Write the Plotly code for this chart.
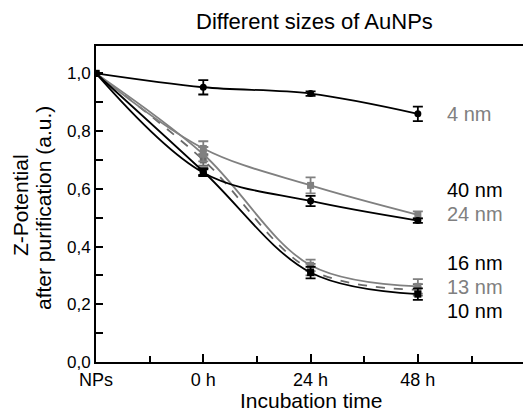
import plotly.graph_objects as go

time_labels = ["NPs", "0 h", "24 h", "48 h"]
x_pos = [0, 1, 2, 3]

sizes = ["4 nm", "40 nm", "24 nm", "16 nm", "13 nm", "10 nm"]
v4 = [1.0, 0.952, 0.930, 0.860]
e4 = [0, 0.025, 0.008, 0.025]
v40 = [1.0, 0.656, 0.558, 0.490]
e40 = [0, 0.012, 0.018, 0.008]
v24 = [1.0, 0.740, 0.612, 0.510]
e24 = [0, 0.025, 0.028, 0.012]
v16 = [1.0, 0.700, 0.320, 0.250]
e16 = [0, 0.020, 0.020, 0.020]
v13 = [1.0, 0.720, 0.335, 0.262]
e13 = [0, 0.025, 0.020, 0.025]
v10 = [1.0, 0.660, 0.310, 0.235]
e10 = [0, 0.012, 0.020, 0.020]

label_y = [0.858, 0.597, 0.514, 0.344, 0.260, 0.177]

BLACK = "#000000"
GRAY = "#808080"
FONT = "Liberation Sans, Arial, sans-serif"

W, H = 523, 413
L, R, T, B = 96, 0, 46, 51
PW, PH = W - L - R, H - T - B


def px(xp):
    return (xp - L) / PW


def py(yp):
    return (H - B - yp) / PH


series = [
    ("16 nm", v16, e16, "#6a6a6a", "square", "dash"),
    ("13 nm", v13, e13, GRAY, "square", "solid"),
    ("24 nm", v24, e24, GRAY, "square", "solid"),
    ("10 nm", v10, e10, BLACK, "square", "solid"),
    ("40 nm", v40, e40, BLACK, "circle", "solid"),
    ("4 nm", v4, e4, BLACK, "circle", "solid"),
]
label_colors = {"4 nm": GRAY, "40 nm": BLACK, "24 nm": GRAY,
                "16 nm": BLACK, "13 nm": GRAY, "10 nm": BLACK}

fig = go.Figure()
for name, vals, errs, col, sym, dash in series:
    fig.add_trace(go.Scatter(
        x=x_pos, y=vals, name=name, mode="lines+markers",
        line=dict(color=col, width=1.8, shape="spline", smoothing=1.0, dash=dash),
        marker=dict(symbol=sym, size=7, color=col),
        error_y=dict(type="data", array=errs, visible=True, color=col,
                     thickness=1.8, width=5),
        showlegend=False,
    ))

for name, ly in zip(sizes, label_y):
    fig.add_annotation(x=3.25, y=ly, xref="x", yref="y", text=name,
                       showarrow=False, xanchor="left", yanchor="middle",
                       font=dict(family=FONT, size=20, color=label_colors[name]))

fig.add_annotation(x=px(314), y=py(21), xref="paper", yref="paper",
                   text="Different sizes of AuNPs", showarrow=False,
                   xanchor="center", yanchor="middle",
                   font=dict(family=FONT, size=22, color="black"))
fig.add_annotation(x=px(311), y=py(400), xref="paper", yref="paper",
                   text="Incubation time", showarrow=False,
                   xanchor="center", yanchor="middle",
                   font=dict(family=FONT, size=21, color="black"))
fig.add_annotation(x=px(20), y=py(205), xref="paper", yref="paper",
                   text="Z-Potential", showarrow=False, textangle=-90,
                   xanchor="center", yanchor="middle",
                   font=dict(family=FONT, size=21, color="black"))
fig.add_annotation(x=px(43), y=py(208), xref="paper", yref="paper",
                   text="after purification (a.u.)", showarrow=False, textangle=-90,
                   xanchor="center", yanchor="middle",
                   font=dict(family=FONT, size=21, color="black"))

fig.update_layout(
    width=W, height=H,
    margin=dict(l=L, r=R, t=T, b=B, autoexpand=False),
    paper_bgcolor="white", plot_bgcolor="white",
    font=dict(family=FONT, size=17, color="black"),
    xaxis=dict(
        range=[0, 3.98], tickvals=x_pos, ticktext=time_labels,
        showline=True, linecolor="black", linewidth=2, mirror=True,
        ticks="inside", ticklen=8, tickwidth=2, tickcolor="black",
        minor=dict(dtick=0.5, ticks="inside", ticklen=6, tickwidth=2, tickcolor="black"),
        showgrid=False, zeroline=False, automargin=False,
        tickfont=dict(size=18),
    ),
    yaxis=dict(
        range=[0, 1.095], tickvals=[0, 0.2, 0.4, 0.6, 0.8, 1.0],
        ticktext=["0,0", "0,2", "0,4", "0,6", "0,8", "1,0"],
        showline=True, linecolor="black", linewidth=2,
        ticks="inside", ticklen=7, tickwidth=2, tickcolor="black",
        minor=dict(dtick=0.1, ticks="inside", ticklen=7, tickwidth=2, tickcolor="black"),
        showgrid=False, zeroline=False, automargin=False,
        tickfont=dict(size=17),
    ),
)

fig.write_html("out.html", config={"displayModeBar": False},
               post_script="document.body.style.margin='0';document.body.style.overflow='hidden';")
